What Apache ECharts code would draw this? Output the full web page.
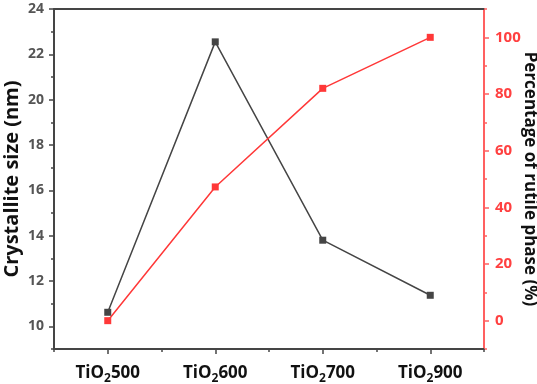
<!DOCTYPE html>
<html>
<head>
<meta charset="utf-8">
<script src="https://cdn.jsdelivr.net/npm/echarts@6/dist/echarts.min.js"></script>
<style>html,body{margin:0;padding:0;background:#fff;}#c{width:537px;height:384px;}</style>
</head>
<body>
<div id="c"></div>
<script>
const categories = ['500', '600', '700', '900'];
const crystalliteSize = [10.62, 22.55, 13.8, 11.37];
const rutilePercent = [0, 47.2, 82, 100];
const leftTicks = [10, 12, 14, 16, 18, 20, 22, 24];
const rightTicks = [0, 20, 40, 60, 80, 100];

const FONT = 'Open Sans';
const DARK = '#454545';
const RED = '#ff3838';
const RED_AXIS = '#ff6060';

const chart = echarts.init(document.getElementById('c'), null, {renderer: 'canvas'});
chart.setOption({
  animation: false,
  backgroundColor: '#fff',
  grid: {left: 54, right: 53, top: 9, bottom: 35, containLabel: false, outerBoundsMode: 'none'},
  xAxis: [
    {
      type: 'category', data: categories, position: 'bottom', boundaryGap: true,
      axisLine: {show: true, onZero: false, lineStyle: {color: DARK, width: 2}},
      axisTick: {show: true, alignWithLabel: true, length: 5, lineStyle: {color: DARK, width: 1.5}},
      axisLabel: {
        margin: 12, interval: 0,
        formatter: v => '{a|TiO}{s|2}{a|' + v + '}',
        rich: {
          a: {fontFamily: FONT, fontWeight: 'bold', fontSize: 17, color: '#111'},
          s: {fontFamily: FONT, fontWeight: 'bold', fontSize: 12, color: '#111', padding: [12, 0, 0, 0]}
        }
      },
      splitLine: {show: false}
    },
    {
      type: 'category', data: categories, position: 'bottom', boundaryGap: true,
      axisLine: {show: false, onZero: false},
      axisTick: {show: true, alignWithLabel: false, length: 3, lineStyle: {color: DARK, width: 1.5}},
      axisLabel: {show: false},
      splitLine: {show: false}
    },
    {
      type: 'category', data: categories, position: 'top', boundaryGap: true,
      axisLine: {show: true, onZero: false, lineStyle: {color: DARK, width: 2}},
      axisTick: {show: false},
      axisLabel: {show: false},
      splitLine: {show: false}
    }
  ],
  yAxis: [
    {
      type: 'value', position: 'left', min: 9, max: 24, interval: 1,
      name: 'Crystallite size (nm)', nameLocation: 'middle', nameGap: 32, nameRotate: 90, nameMoveOverlap: false,
      nameTextStyle: {fontFamily: FONT, fontWeight: 'bold', fontSize: 20, color: '#111'},
      axisLine: {show: true, onZero: false, lineStyle: {color: DARK, width: 2}},
      axisTick: {show: true, length: 5, customValues: leftTicks, lineStyle: {color: DARK, width: 1.5}},
      axisLabel: {customValues: leftTicks, margin: 10, fontFamily: FONT, fontWeight: 'bold', fontSize: 14, color: '#555'},
      splitLine: {show: false}
    },
    {
      type: 'value', position: 'left', min: 9, max: 24, interval: 1,
      axisLine: {show: false, onZero: false},
      axisTick: {show: true, length: 3, lineStyle: {color: DARK, width: 1.5}},
      axisLabel: {show: false},
      splitLine: {show: false}
    },
    {
      type: 'value', position: 'right', min: -10, max: 110, interval: 10,
      name: 'Percentage of rutile phase (%)', nameLocation: 'middle', nameGap: 37, nameRotate: -90, nameMoveOverlap: false,
      nameTextStyle: {fontFamily: FONT, fontWeight: 'bold', fontSize: 17, color: '#111'},
      axisLine: {show: true, onZero: false, lineStyle: {color: RED_AXIS, width: 2}},
      axisTick: {show: true, length: 5, customValues: rightTicks, lineStyle: {color: RED_AXIS, width: 1.5}},
      axisLabel: {customValues: rightTicks, margin: 11, fontFamily: FONT, fontWeight: 'bold', fontSize: 15, color: '#ff4040'},
      splitLine: {show: false}
    },
    {
      type: 'value', position: 'right', min: -10, max: 110, interval: 10,
      axisLine: {show: false, onZero: false},
      axisTick: {show: true, length: 3, lineStyle: {color: RED_AXIS, width: 1.5}},
      axisLabel: {show: false},
      splitLine: {show: false}
    }
  ],
  series: [
    {
      type: 'line', xAxisIndex: 0, yAxisIndex: 0, data: crystalliteSize,
      symbol: 'rect', symbolSize: 7,
      itemStyle: {color: DARK}, lineStyle: {color: DARK, width: 1.5}
    },
    {
      type: 'line', xAxisIndex: 0, yAxisIndex: 2, data: rutilePercent,
      symbol: 'rect', symbolSize: 7,
      itemStyle: {color: RED}, lineStyle: {color: RED, width: 1.5}
    }
  ]
});
</script>
</body>
</html>
